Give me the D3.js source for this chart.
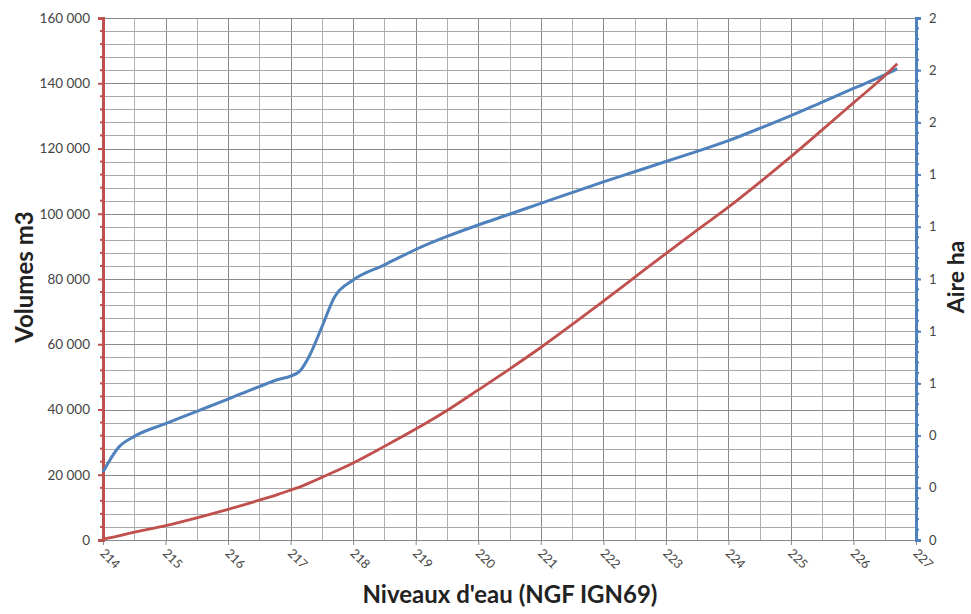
<!DOCTYPE html>
<html>
<head>
<meta charset="utf-8">
<script src="https://cdn.jsdelivr.net/npm/d3@7"></script>
<style>
  html, body { margin: 0; padding: 0; background: #fff; }
  svg { display: block; }
  text { font-family: "Lato", "Open Sans", sans-serif; }
</style>
</head>
<body>
<div id="chart"></div>
<script>
// ---- Data ----
const levels = [214, 214.25, 214.5, 215, 215.5, 216, 216.5, 216.8, 217, 217.15, 217.3, 217.5, 217.7, 218, 218.5, 219, 219.5, 220, 220.5, 221, 221.5, 222, 222.5, 223, 223.5, 224, 224.5, 225, 225.5, 226, 226.5, 226.7];
const volumes = [300, 1300, 2400, 4400, 6800, 9400, 12200, 14000, 15300, 16300, 17500, 19200, 20900, 23600, 28700, 34000, 39700, 46000, 52400, 59000, 66000, 73200, 80500, 87800, 95000, 102000, 109600, 117500, 125700, 134000, 142300, 146000];
const areas = [0.26, 0.355, 0.397, 0.446, 0.493, 0.54, 0.588, 0.615, 0.628, 0.648, 0.705, 0.816, 0.93, 0.996, 1.054, 1.113, 1.163, 1.207, 1.248, 1.29, 1.331, 1.372, 1.411, 1.45, 1.489, 1.53, 1.577, 1.626, 1.678, 1.73, 1.782, 1.805];
const xTicks = [214, 215, 216, 217, 218, 219, 220, 221, 222, 223, 224, 225, 226, 227];
const volTicks = [0, 20000, 40000, 60000, 80000, 100000, 120000, 140000, 160000];
const areaTicks = [0, 0.2, 0.4, 0.6, 0.8, 1.0, 1.2, 1.4, 1.6, 1.8, 2.0];
const xTitle = "Niveaux d'eau (NGF IGN69)";
const yTitle = "Volumes m3";
const y2Title = "Aire ha";

// ---- Layout ----
const W = 971, H = 614;
const m = { left: 103, right: 55, top: 18, bottom: 74 };
const iw = W - m.left - m.right, ih = H - m.top - m.bottom;
const RED = "#c0504d", BLUE = "#4f81bd";

const svg = d3.select("#chart").append("svg").attr("width", W).attr("height", H);
const g = svg.append("g").attr("transform", `translate(${m.left},${m.top})`);

const x = d3.scaleLinear().domain([214, 227]).range([0, iw]);
const y = d3.scaleLinear().domain([0, 160000]).range([ih, 0]);
const y2 = d3.scaleLinear().domain([0, 2]).range([ih, 0]);

// Gridlines
const vMinor = d3.range(214, 227.01, 0.5);
g.append("g").selectAll("line").data(vMinor).join("line")
  .attr("x1", d => Math.round(x(d)) + 0.5).attr("x2", d => Math.round(x(d)) + 0.5).attr("y1", 0).attr("y2", ih)
  .attr("stroke", d => Number.isInteger(d) ? "#8a8a8a" : "#b0b0b0").attr("stroke-width", 1);
const hMinor = d3.range(0, 160001, 4000);
g.append("g").selectAll("line").data(hMinor).join("line")
  .attr("x1", 0).attr("x2", iw).attr("y1", d => Math.round(y(d)) + 0.5).attr("y2", d => Math.round(y(d)) + 0.5)
  .attr("stroke", d => d % 20000 === 0 ? "#8a8a8a" : "#a8a8a8").attr("stroke-width", 1);

// X axis
const xAxis = g.append("g").attr("transform", `translate(0,${ih})`)
  .call(d3.axisBottom(x).tickValues(xTicks).tickSize(5).tickFormat(d3.format("d")));
xAxis.select(".domain").attr("stroke", "#8a8a8a");
xAxis.selectAll(".tick line").attr("stroke", "#8a8a8a");
xAxis.selectAll(".tick text")
  .attr("fill", "#444").attr("font-size", 12.5)
  .attr("text-anchor", "start")
  .attr("transform", "translate(-1,11) rotate(45)")
  .attr("x", 0).attr("y", 0).attr("dy", "0.35em");

// Left axis
const fmt = v => d3.format(",")(v).replace(/,/g, " ");
const yAxis = g.append("g")
  .call(d3.axisLeft(y).tickValues(volTicks).tickSize(5).tickPadding(8).tickFormat(fmt));
yAxis.select(".domain").attr("stroke", RED).attr("stroke-width", 3);
yAxis.selectAll(".tick line").attr("stroke", RED).attr("stroke-width", 2);
yAxis.selectAll(".tick text").attr("fill", "#444").attr("font-size", 13.5);
g.append("g").selectAll("line").data(hMinor.filter(d => d % 20000 !== 0)).join("line")
  .attr("x1", -3).attr("x2", 2).attr("y1", d => y(d)).attr("y2", d => y(d))
  .attr("stroke", RED).attr("stroke-width", 2);

// Right axis
const y2Axis = g.append("g").attr("transform", `translate(${iw},0)`)
  .call(d3.axisRight(y2).tickValues(areaTicks).tickSize(5).tickPadding(8).tickFormat(d3.format(".0f")));
y2Axis.select(".domain").attr("stroke", BLUE).attr("stroke-width", 3);
y2Axis.selectAll(".tick line").attr("stroke", BLUE).attr("stroke-width", 2);
y2Axis.selectAll(".tick text").attr("fill", "#444").attr("font-size", 13);
const y2Minor = d3.range(0, 2.0001, 0.04);
g.append("g").selectAll("line").data(y2Minor).join("line")
  .attr("x1", iw - 1).attr("x2", iw + 3).attr("y1", d => y2(d)).attr("y2", d => y2(d))
  .attr("stroke", BLUE).attr("stroke-width", 2);

// Lines
const idx = d3.range(levels.length);
const volLine = d3.line().curve(d3.curveMonotoneX).x(i => x(levels[i])).y(i => y(volumes[i]));
const areaLine = d3.line().curve(d3.curveMonotoneX).x(i => x(levels[i])).y(i => y2(areas[i]));
g.append("path").attr("d", areaLine(idx)).attr("fill", "none").attr("stroke", BLUE).attr("stroke-width", 3);
g.append("path").attr("d", volLine(idx)).attr("fill", "none").attr("stroke", RED).attr("stroke-width", 2.8);

// Titles
svg.append("text").attr("x", 510).attr("y", 603).attr("text-anchor", "middle")
  .attr("font-size", 24).attr("font-weight", "bold").attr("fill", "#222").text(xTitle);
svg.append("text").attr("transform", "translate(33,277) rotate(-90)").attr("text-anchor", "middle")
  .attr("font-size", 24).attr("font-weight", "bold").attr("fill", "#222").text(yTitle);
svg.append("text").attr("transform", "translate(964,277) rotate(-90)").attr("text-anchor", "middle")
  .attr("font-size", 23).attr("font-weight", "bold").attr("fill", "#222").text(y2Title);
</script>
</body>
</html>
